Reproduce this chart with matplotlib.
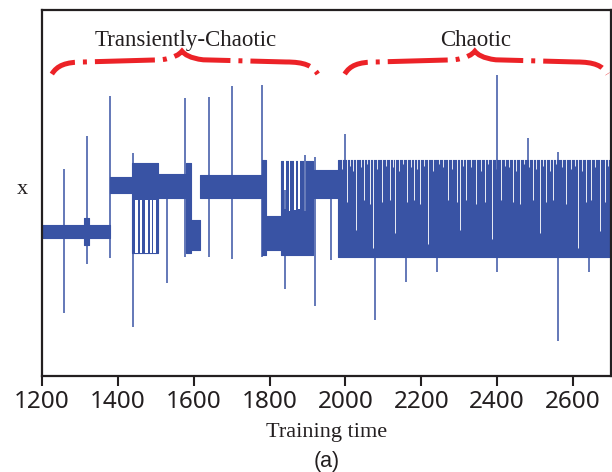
"""
训练过程中 x 的演化：暂态混沌 -> 混沌
"""
import matplotlib
matplotlib.use('Agg')
import matplotlib.pyplot as plt
from matplotlib.path import Path
from matplotlib.patches import PathPatch

BLUE = '#3953a4'
RED = '#ec2227'
INK = '#231f20'

# 信号包络：每段 [起点, 终点, 上沿, 下沿]
band_t0 = [1200, 1312, 1325, 1378, 1436, 1505, 1580, 1592, 1616, 1779, 1790, 1830, 1915, 1980]
band_t1 = [1312, 1325, 1378, 1436, 1505, 1580, 1592, 1616, 1779, 1790, 1830, 1915, 1980, 2700]
band_top = [-0.175, -0.137, -0.175, 0.087, 0.164, 0.105, 0.164, -0.148, 0.098, 0.180, -0.125, 0.175, 0.125, 0.180]
band_bot = [-0.246, -0.284, -0.246, 0.000, -0.328, -0.027, -0.328, -0.311, -0.027, -0.339, -0.311, -0.339, -0.027, -0.350]

# 切换区中的空隙 [起点, 终点, 上沿, 下沿]
gap_t0 = [1445, 1458, 1471, 1484, 1492, 1838, 1850, 1864, 1876, 1890]
gap_t1 = [1453, 1463, 1479, 1490, 1500, 1842, 1855, 1869, 1880, 1896]
gap_top = [-0.040, -0.040, -0.040, -0.040, -0.040, 0.185, 0.185, 0.185, 0.185, 0.185]
gap_bot = [-0.330, -0.330, -0.330, -0.330, -0.330, -0.090, -0.100, -0.095, -0.090, -0.100]

# 混沌区中的白色细条纹
streak_t = [2003, 2029, 2049, 2064, 2073, 2095, 2117, 2130, 2163, 2181, 2196, 2218,
            2271, 2293, 2301, 2319, 2345, 2367, 2387, 2411, 2442, 2459, 2494, 2512,
            2529, 2547, 2582, 2613, 2635, 2648, 2670, 2683]
streak_bot = [-0.05, -0.20, -0.04, -0.06, -0.30, -0.05, -0.04, -0.22, -0.05, -0.04, -0.06, -0.28,
              -0.04, -0.05, -0.20, -0.04, -0.06, -0.05, -0.25, -0.04, -0.05, -0.06, -0.04, -0.22,
              -0.05, -0.04, -0.06, -0.30, -0.05, -0.04, -0.21, -0.05]

# 混沌区上沿的缺口（锯齿状边缘）
notch_t = [1990, 2011, 2020, 2040, 2057, 2084, 2106, 2124, 2141, 2152, 2172, 2188,
           2207, 2230, 2246, 2258, 2282, 2310, 2330, 2356, 2377, 2398, 2421, 2432,
           2450, 2470, 2485, 2503, 2520, 2538, 2556, 2570, 2595, 2604, 2624, 2658, 2692]
notch_bot = [0.13, 0.15, 0.12, 0.14, 0.16, 0.13, 0.15, 0.14, 0.12, 0.16, 0.14, 0.13,
             0.15, 0.12, 0.16, 0.14, 0.13, 0.15, 0.14, 0.12, 0.16, 0.13, 0.15, 0.14,
             0.12, 0.16, 0.14, 0.13, 0.15, 0.12, 0.16, 0.14, 0.13, 0.15, 0.12, 0.14, 0.15]

# 孤立尖峰 [时间, 最高, 最低]
spike_t = [1259, 1319, 1378, 1440, 1530, 1578, 1639, 1700, 1779, 1840, 1893, 1919,
           1963, 2000, 2079, 2159, 2240, 2399, 2481, 2560, 2641]
spike_hi = [0.131, 0.311, 0.530, 0.219, 0.038, 0.519, 0.525, 0.585, 0.590, 0.016, 0.208, 0.197,
            0.016, 0.322, -0.038, -0.038, -0.038, 0.645, 0.301, 0.224, -0.038]
spike_lo = [-0.656, -0.388, -0.355, -0.732, -0.492, -0.350, -0.350, -0.361, -0.350, -0.525, -0.300, -0.617,
            -0.366, -0.038, -0.694, -0.486, -0.432, -0.432, -0.038, -0.809, -0.432]

# 花括号与标注 [左端, 顶点, 右端]
brace_x = [(1226, 1569, 1927), (1998, 2341, 2691)]
brace_labels = ['Transiently-Chaotic', 'Chaotic']
label_x = [1580, 2343]

xticks = [1200, 1400, 1600, 1800, 2000, 2200, 2400, 2600]


def draw_brace(ax, x0, xm, x1, yb=0.650, ya=0.716, yp=0.775):
    w = x1 - x0
    h1 = ya - yb
    h2 = yp - ya
    verts = [
        (x0, yb),
        (x0 + 0.02 * w, yb + 0.7 * h1), (x0 + 0.05 * w, ya), (x0 + 0.12 * w, ya),
        (xm - 0.08 * w, ya + 0.2 * h2),
        (xm - 0.03 * w, ya + 0.35 * h2), (xm - 0.01 * w, ya + 0.7 * h2), (xm, yp),
        (xm + 0.01 * w, ya + 0.7 * h2), (xm + 0.03 * w, ya + 0.35 * h2), (xm + 0.08 * w, ya + 0.2 * h2),
        (x1 - 0.12 * w, ya),
        (x1 - 0.05 * w, ya), (x1 - 0.02 * w, yb + 0.7 * h1), (x1, yb),
    ]
    codes = ([Path.MOVETO] + [Path.CURVE4] * 3 + [Path.LINETO] + [Path.CURVE4] * 6
             + [Path.LINETO] + [Path.CURVE4] * 3)
    patch = PathPatch(Path(verts, codes), fill=False, edgecolor=RED, lw=3.6,
                      linestyle=(6.6, (12, 1.6, 0.8, 1.6)), capstyle='butt', clip_on=False)
    ax.add_patch(patch)


fig = plt.figure(figsize=(6.12, 4.72), dpi=100)
ax = fig.add_axes([0.0686, 0.2034, 0.9298, 0.7754])

for t0, t1, top, bot in zip(band_t0, band_t1, band_top, band_bot):
    ax.fill_between([t0, t1], [bot, bot], [top, top], color=BLUE, lw=0.8, edgecolor=BLUE)

for t0, t1, top, bot in zip(gap_t0, gap_t1, gap_top, gap_bot):
    ax.fill_between([t0, t1], [bot, bot], [top, top], color='white', lw=0)

ax.vlines(streak_t, streak_bot, 0.19, color='white', lw=0.7, alpha=0.9)
ax.vlines(notch_t, notch_bot, 0.19, color='white', lw=0.6)
ax.vlines(spike_t, spike_lo, spike_hi, color=BLUE, lw=1.1)

for (x0, xm, x1), txt, lx in zip(brace_x, brace_labels, label_x):
    draw_brace(ax, x0, xm, x1)
    ax.text(lx, 0.835, txt, ha='center', va='center', fontsize=16.5,
            family='Liberation Serif', color=INK)

ax.set_xlim(1200, 2700)
ax.set_ylim(-1, 1)
ax.set_xticks(xticks)
ax.set_yticks([])
for side in ['left', 'right', 'top', 'bottom']:
    ax.spines[side].set_linewidth(1.6)
    ax.spines[side].set_color(INK)
ax.tick_params(axis='x', direction='out', length=7, width=1.5, color=INK,
               labelsize=17.5, labelcolor=INK, pad=3)
for lab in ax.get_xticklabels():
    lab.set_family('Noto Sans')

fig.text(327 / 612, 1 - 432 / 472, 'Training time', ha='center', va='center',
         fontsize=16, family='Liberation Serif', color=INK)
fig.text(327 / 612, 1 - 462 / 472, '(a)', ha='center', va='center',
         fontsize=15.5, family='Liberation Sans', color=INK)
fig.text(22 / 612, 1 - 190 / 472, 'x', ha='center', va='center',
         fontsize=16, family='Liberation Serif', color=INK)

fig.savefig('out.png', dpi=100)
